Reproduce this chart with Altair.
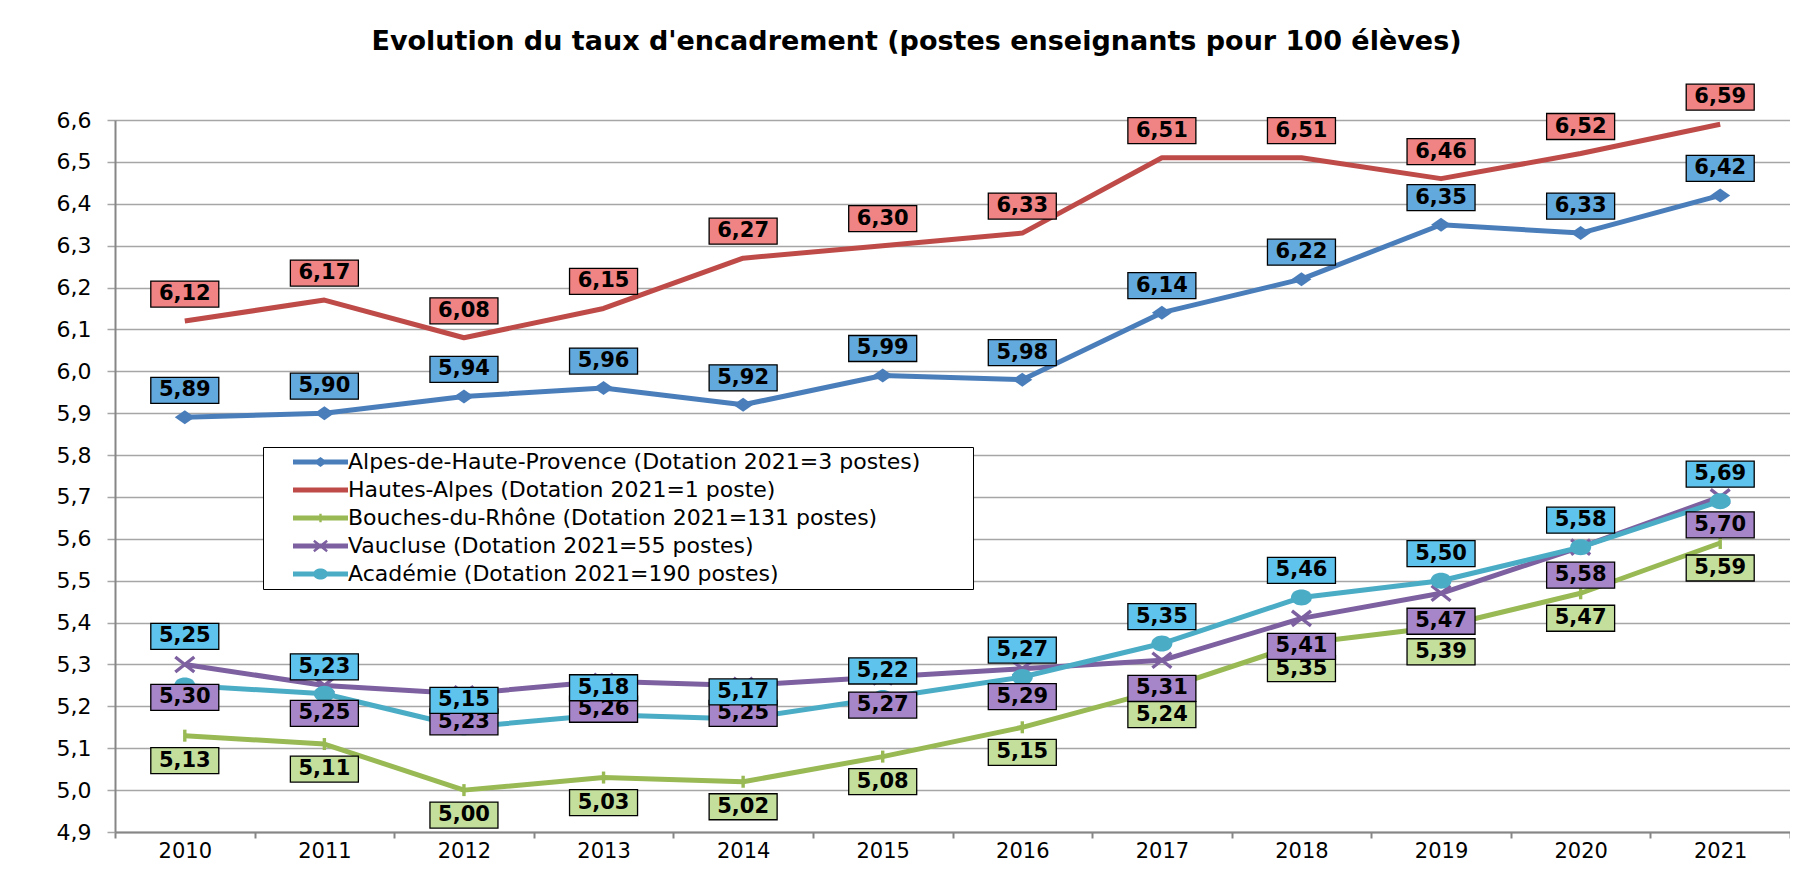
import math
import altair as alt
import pandas as pd

# ---------------- data ----------------
years = ["2010", "2011", "2012", "2013", "2014", "2015",
         "2016", "2017", "2018", "2019", "2020", "2021"]

series_names = [
    "Alpes-de-Haute-Provence (Dotation 2021=3 postes)",
    "Hautes-Alpes (Dotation 2021=1 poste)",
    "Bouches-du-Rhône (Dotation 2021=131 postes)",
    "Vaucluse (Dotation 2021=55 postes)",
    "Académie (Dotation 2021=190 postes)",
]

alpes_hp = [5.89, 5.90, 5.94, 5.96, 5.92, 5.99, 5.98, 6.14, 6.22, 6.35, 6.33, 6.42]
hautes_alpes = [6.12, 6.17, 6.08, 6.15, 6.27, 6.30, 6.33, 6.51, 6.51, 6.46, 6.52, 6.59]
bouches_rhone = [5.13, 5.11, 5.00, 5.03, 5.02, 5.08, 5.15, 5.24, 5.35, 5.39, 5.47, 5.59]
vaucluse = [5.30, 5.25, 5.23, 5.26, 5.25, 5.27, 5.29, 5.31, 5.41, 5.47, 5.58, 5.70]
academie = [5.25, 5.23, 5.15, 5.18, 5.17, 5.22, 5.27, 5.35, 5.46, 5.50, 5.58, 5.69]

y_tick_values = [4.9, 5.0, 5.1, 5.2, 5.3, 5.4, 5.5, 5.6, 5.7, 5.8, 5.9,
                 6.0, 6.1, 6.2, 6.3, 6.4, 6.5, 6.6]

title_text = "Evolution du taux d'encadrement (postes enseignants pour 100 élèves)"

# ---------------- style ----------------
LINE_COLORS = ["#4A7EBB", "#BE4B48", "#98B954", "#7D60A0", "#4BACC6"]
BOX_COLORS = ["#62A9DE", "#F08484", "#C4DF9C", "#A686C8", "#5EC4EE"]
MARKERS = ["diamond", None, "bar", "x", "ellipse"]
LABEL_SHIFT_PX = [-27, -27, 25, 28, -27]       # negative = above the point
LABEL_NUDGE_PX = {(4, "2010"): -22, (3, "2010"): 5}   # hand-moved labels in the original

W, H = 1675, 712
Y_MIN, Y_MAX = 4.9, 6.6
FONT = "DejaVu Sans"


def marker_polys(kind, k=1.0):
    if kind == "diamond":
        return [[(0, -7 * k), (10 * k, 0), (0, 7 * k), (-10 * k, 0)]]
    if kind == "ellipse":
        a, b = 10.5 * k, 8 * k
        return [[(a * math.cos(2 * math.pi * i / 36), b * math.sin(2 * math.pi * i / 36))
                 for i in range(36)]]
    if kind == "x":
        w, h, t = 9.5 * k, 7.5 * k, 3.4 * k
        L = math.hypot(2 * w, 2 * h)
        nx, ny = -2 * h / L * t / 2, 2 * w / L * t / 2
        bar1 = [(-w + nx, -h + ny), (w + nx, h + ny), (w - nx, h - ny), (-w - nx, -h - ny)]
        bar2 = [(-x, y) for x, y in bar1]
        return [bar1, bar2]
    if kind == "bar":
        return [[(-1.7 * k, -6 * k), (1.7 * k, -6 * k), (1.7 * k, 6 * k), (-1.7 * k, 6 * k)]]
    return []


def orient(poly):
    area = sum(x1 * y2 - x2 * y1 for (x1, y1), (x2, y2) in zip(poly, poly[1:] + poly[:1]))
    return poly if area > 0 else poly[::-1]


def to_path(polys, half):
    parts = []
    for poly in polys:
        poly = orient(poly)
        pts = [f"{x / half:.4f},{y / half:.4f}" for x, y in poly]
        parts.append("M" + "L".join(pts) + "Z")
    return " ".join(parts) if parts else "M0,0Z"


def rect(hw, hh):
    return [(-hw, -hh), (hw, -hh), (hw, hh), (-hw, hh)]


MARK_HALF = 11.0
MARK_SIZE = (2 * MARK_HALF) ** 2
LEG_HALF = 27.5
LEG_SIZE = (2 * LEG_HALF) ** 2
BOX_HALF = 34.0
BOX_SIZE = (2 * BOX_HALF) ** 2

marker_paths = [to_path(marker_polys(m), MARK_HALF) for m in MARKERS]
legend_paths = [to_path([rect(LEG_HALF, 2.6)] + marker_polys(m, 0.7), LEG_HALF) for m in MARKERS]
box_path = to_path([rect(BOX_HALF, 13)], BOX_HALF)

# ---------------- table ----------------
all_values = [alpes_hp, hautes_alpes, bouches_rhone, vaucluse, academie]
rows = []
for si, (name, vals) in enumerate(zip(series_names, all_values)):
    for yr, v in zip(years, vals):
        shift = LABEL_SHIFT_PX[si] + LABEL_NUDGE_PX.get((si, yr), 0)
        rows.append({
            "serie": name,
            "year": yr,
            "value": v,
            "label": f"{v:.2f}".replace(".", ","),
            "label_y": v - shift * (Y_MAX - Y_MIN) / H,
        })
df = pd.DataFrame(rows)

# ---------------- encodings ----------------
x_axis = alt.Axis(title=None, labelAngle=0, tickBand="extent", tickSize=6,
                  tickColor="#868686", tickWidth=2, domainColor="#868686", domainWidth=2,
                  grid=False, labelFont=FONT, labelFontSize=21, labelColor="black",
                  labelPadding=2)
y_axis = alt.Axis(title=None, values=y_tick_values,
                  labelExpr="replace(format(datum.value, '.1f'), '.', ',')",
                  grid=True, gridColor="#A6A6A6", gridWidth=1.5,
                  tickSize=8, tickColor="#A6A6A6", tickWidth=1.5,
                  domainColor="#868686", domainWidth=2,
                  labelFont=FONT, labelFontSize=22, labelColor="black", labelPadding=16)

x_scale = alt.Scale(type="band", paddingInner=0, paddingOuter=0)
y_scale = alt.Scale(domain=[Y_MIN, Y_MAX], nice=False, zero=False)


def X():
    return alt.X("year:N", sort=years, scale=x_scale, axis=x_axis)


def Y(field):
    return alt.Y(f"{field}:Q", scale=y_scale, axis=y_axis)


base = alt.Chart(df)

legend = alt.Legend(title=None, orient="none", legendX=148, legendY=327,
                    direction="vertical", symbolSize=LEG_SIZE, symbolStrokeWidth=0,
                    symbolOpacity=1, clipHeight=22, rowPadding=6, labelOffset=0,
                    padding=4, symbolOffset=26, strokeColor="black", fillColor="white",
                    labelFont=FONT, labelFontSize=22, labelColor="black", labelLimit=1500,
                    labelExpr="datum.label + '\u2800\u2800\u2800'")

legend_layer = base.mark_point(filled=True, opacity=0, size=LEG_SIZE).encode(
    x=X(), y=Y("value"),
    color=alt.Color("serie:N", scale=alt.Scale(domain=series_names, range=LINE_COLORS), legend=legend),
    shape=alt.Shape("serie:N", scale=alt.Scale(domain=series_names, range=legend_paths), legend=legend),
)

layers = [legend_layer]
for si, name in enumerate(series_names):
    sub = base.transform_filter(alt.datum.serie == name)
    layers.append(sub.mark_line(color=LINE_COLORS[si], strokeWidth=5, strokeJoin="round").encode(
        x=X(), y=Y("value")))
    if MARKERS[si]:
        layers.append(sub.mark_point(shape=marker_paths[si], size=MARK_SIZE, filled=True,
                                     fill=LINE_COLORS[si], strokeWidth=0, opacity=1).encode(
            x=X(), y=Y("value")))

for si, name in enumerate(series_names):
    sub = base.transform_filter(alt.datum.serie == name)
    layers.append(sub.mark_point(shape=box_path, size=BOX_SIZE, filled=True, fill=BOX_COLORS[si],
                                 stroke="black", strokeWidth=1.3, opacity=1).encode(
        x=X(), y=Y("label_y")))
    layers.append(sub.mark_text(font=FONT, fontWeight="bold", fontSize=21, color="black",
                                align="center", baseline="middle").encode(
        x=X(), y=Y("label_y"), text="label:N"))

chart = alt.layer(*layers).properties(
    width=W, height=H,
    title=alt.TitleParams(text=title_text, font=FONT, fontSize=27, fontWeight="bold",
                          color="black", anchor="middle", dx=-36, offset=26),
    padding={"left": 107, "top": 112, "right": 0, "bottom": 31},
    autosize=alt.AutoSizeParams(type="none"),
).configure_view(stroke="transparent").configure(background="white")

chart.save("out.html", embed_options={"renderer": "svg", "actions": False})
